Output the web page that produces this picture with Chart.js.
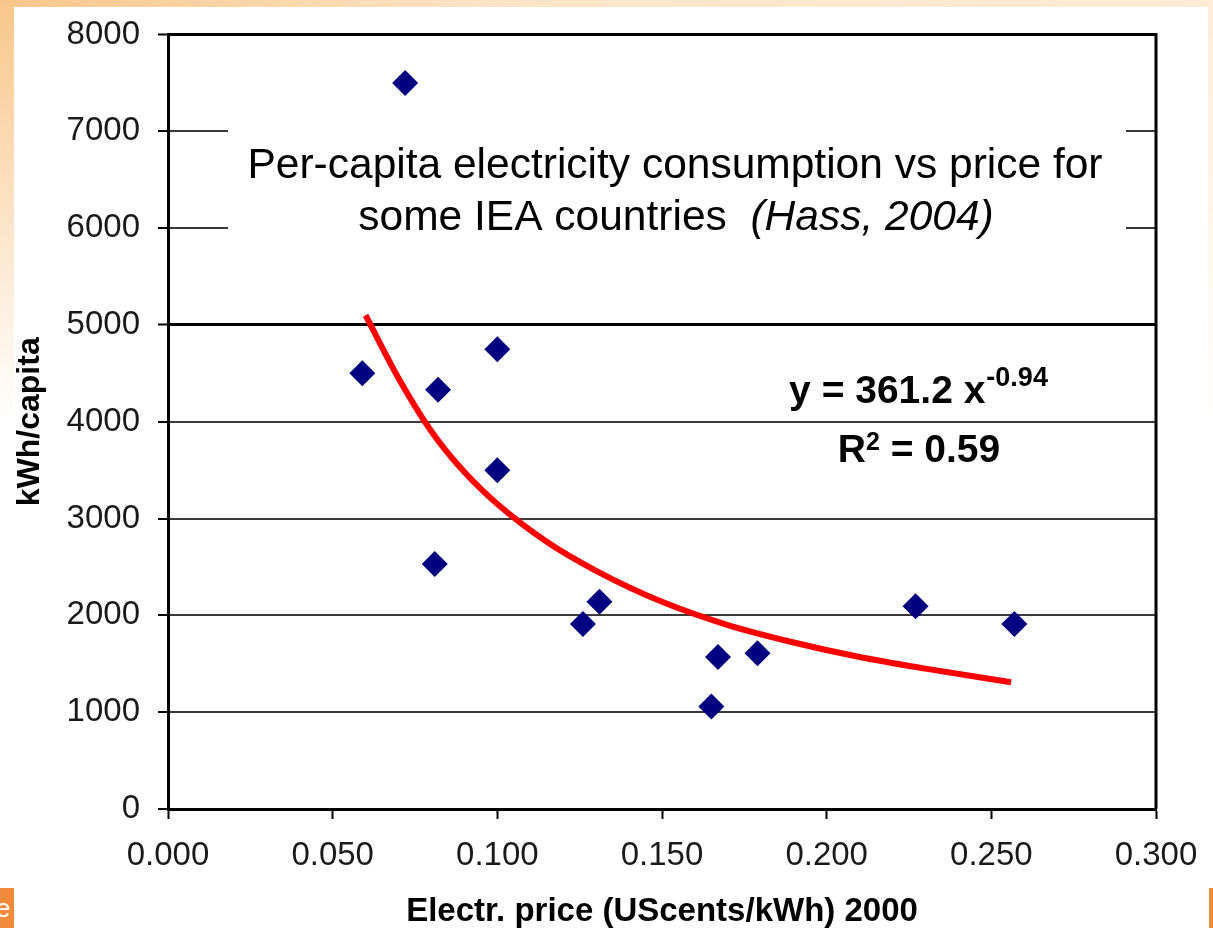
<!DOCTYPE html>
<html>
<head>
<meta charset="utf-8">
<script src="https://cdn.jsdelivr.net/npm/chart.js@4.4.1/dist/chart.umd.min.js"></script>
<style>
  html, body { margin: 0; padding: 0; }
  body {
    width: 1213px; height: 928px; overflow: hidden; position: relative;
    background:
      linear-gradient(to bottom, rgba(255,255,255,0) 0, #fff 420px),
      linear-gradient(to right, #f9c68a 0, #fde4c6 40%, #feecd6 100%);
    font-family: "Liberation Sans", Arial, sans-serif;
  }
  .panel { position: absolute; left: 14px; top: 7px; width: 1194px; height: 921px; background: #fff; }
  .corner-l { position: absolute; left: 0; top: 888px; width: 14px; height: 40px; background: #f28a3c;
    color: #fff; font-size: 26px; line-height: 40px; overflow: hidden; text-indent: -4px; }
  .corner-r { position: absolute; left: 1209px; top: 888px; width: 4px; height: 40px; background: #f28a3c; }
  .wrap { position: absolute; left: 0; top: 0; width: 1213px; height: 928px; }
</style>
</head>
<body>
<div class="panel"></div>
<div class="corner-l">e</div>
<div class="corner-r"></div>
<div class="wrap"><canvas id="chart"></canvas></div>
<script>
// electricity price (UScents/kWh) 2000 vs kWh/capita
const priceX = [0.059, 0.072, 0.082, 0.081, 0.100, 0.100, 0.126, 0.131, 0.165, 0.167, 0.179, 0.227, 0.257];
const consumption = [4500, 7500, 4330, 2530, 4750, 3500, 1910, 2140, 1060, 1570, 1610, 2095, 1910];

// power trend line as drawn
const trendX = [0.060, 0.070, 0.080, 0.090, 0.100, 0.115, 0.130, 0.150, 0.170, 0.190, 0.210, 0.230, 0.256];
const trendY = [5100, 4450, 3900, 3480, 3150, 2760, 2460, 2140, 1900, 1720, 1570, 1450, 1310];

const xTicks = [0, 0.05, 0.1, 0.15, 0.2, 0.25, 0.3];
const yTicks = [0, 1000, 2000, 3000, 4000, 5000, 6000, 7000, 8000];

const FONT = '"Liberation Sans", Arial, sans-serif';

const overlay = {
    id: 'overlay',
    beforeDatasetsDraw(chart) {
        const c = chart.ctx;
        const a = chart.chartArea;
        // white text box over the gridlines
        c.save();
        c.fillStyle = '#fff';
        c.fillRect(228, 108, 898, 158);
        // plot frame (top + right)
        c.strokeStyle = '#000';
        c.lineWidth = 3;
        c.beginPath();
        c.moveTo(a.left, a.top);
        c.lineTo(a.right, a.top);
        c.lineTo(a.right, a.bottom);
        c.stroke();
        c.restore();
    },
    afterDraw(chart) {
        const c = chart.ctx;
        c.save();
        c.fillStyle = '#000';
        c.textBaseline = 'alphabetic';

        // title
        c.font = '42.5px ' + FONT;
        c.textAlign = 'center';
        c.fillText('Per-capita electricity consumption vs price for', 675, 178);
        const part1 = 'some IEA countries  ';
        const part2 = '(Hass, 2004)';
        const w1 = c.measureText(part1).width;
        c.font = 'italic 42.5px ' + FONT;
        const w2 = c.measureText(part2).width;
        let x = 676 - (w1 + w2) / 2;
        c.textAlign = 'left';
        c.font = '42.5px ' + FONT;
        c.fillText(part1, x, 230);
        c.font = 'italic 42.5px ' + FONT;
        c.fillText(part2, x + w1, 230);

        // equation
        const e1 = 'y = 361.2 x';
        const s1 = '-0.94';
        c.font = 'bold 39px ' + FONT;
        const we1 = c.measureText(e1).width;
        c.font = 'bold 27px ' + FONT;
        const ws1 = c.measureText(s1).width;
        x = 918 - (we1 + ws1) / 2;
        c.font = 'bold 39px ' + FONT;
        c.fillText(e1, x, 403);
        c.font = 'bold 27px ' + FONT;
        c.fillText(s1, x + we1 + 1, 386);

        const r1 = 'R';
        const rs = '2';
        const r2 = ' = 0.59';
        c.font = 'bold 39px ' + FONT;
        const wr1 = c.measureText(r1).width;
        const wr2 = c.measureText(r2).width;
        c.font = 'bold 25px ' + FONT;
        const wrs = c.measureText(rs).width;
        x = 919 - (wr1 + wrs + wr2) / 2;
        c.font = 'bold 39px ' + FONT;
        c.fillText(r1, x, 462);
        c.font = 'bold 25px ' + FONT;
        c.fillText(rs, x + wr1, 450);
        c.font = 'bold 39px ' + FONT;
        c.fillText(r2, x + wr1 + wrs, 462);
        c.restore();
    }
};

const chart = new Chart(document.getElementById('chart'), {
    type: 'scatter',
    data: {
        datasets: [
            {
                label: 'countries',
                data: priceX.map((p, i) => ({ x: p, y: consumption[i] })),
                pointStyle: 'rectRot',
                pointRadius: 13,
                pointHoverRadius: 13,
                backgroundColor: '#000080',
                borderWidth: 0,
                order: 1
            },
            {
                label: 'trend',
                data: trendX.map((p, i) => ({ x: p, y: trendY[i] })),
                showLine: true,
                borderColor: '#ff0000',
                borderWidth: 6,
                pointRadius: 0,
                cubicInterpolationMode: 'monotone',
                order: 2
            }
        ]
    },
    options: {
        responsive: true,
        maintainAspectRatio: false,
        animation: false,
        layout: { padding: { top: 34, right: 57, left: 0, bottom: 0 } },
        plugins: {
            legend: { display: false },
            tooltip: { enabled: false }
        },
        scales: {
            x: {
                type: 'linear',
                min: 0,
                max: 0.3,
                afterBuildTicks: s => { s.ticks = xTicks.map(v => ({ value: v })); },
                afterFit: s => { s.height = 119; },
                ticks: {
                    color: '#1a1a1a',
                    font: { family: FONT, size: 33, lineHeight: 1.4 },
                    padding: 14,
                    maxRotation: 0,
                    autoSkip: false,
                    callback: v => v.toFixed(3)
                },
                grid: {
                    drawOnChartArea: false,
                    drawTicks: true,
                    tickLength: 10,
                    tickColor: '#000',
                    tickWidth: 2
                },
                border: { display: true, color: '#000', width: 3 },
                title: {
                    display: true,
                    text: 'Electr. price (UScents/kWh) 2000',
                    color: '#000',
                    font: { family: FONT, size: 33, weight: 'bold', lineHeight: 1 },
                    padding: { top: 0, bottom: 0 }
                }
            },
            y: {
                type: 'linear',
                min: 0,
                max: 8000,
                afterBuildTicks: s => { s.ticks = yTicks.map(v => ({ value: v })); },
                afterFit: s => { s.width = 168; },
                ticks: {
                    color: '#1a1a1a',
                    font: { family: FONT, size: 33, lineHeight: 1 },
                    padding: 18,
                    autoSkip: false,
                    callback: v => String(v)
                },
                grid: {
                    drawTicks: true,
                    tickLength: 10,
                    color: ctx => (ctx.tick && (ctx.tick.value === 5000 || ctx.tick.value === 8000)) ? '#000' : '#3a3a3a',
                    lineWidth: ctx => (ctx.tick && (ctx.tick.value === 5000 || ctx.tick.value === 8000)) ? 3 : 2,
                    tickColor: '#000',
                    tickWidth: 2
                },
                border: { display: true, color: '#000', width: 3 },
                title: {
                    display: true,
                    text: 'kWh/capita',
                    color: '#000',
                    font: { family: FONT, size: 32, weight: 'bold', lineHeight: 1 },
                    padding: { top: 14, bottom: 0 }
                }
            }
        }
    },
    plugins: [overlay]
});
</script>
</body>
</html>
